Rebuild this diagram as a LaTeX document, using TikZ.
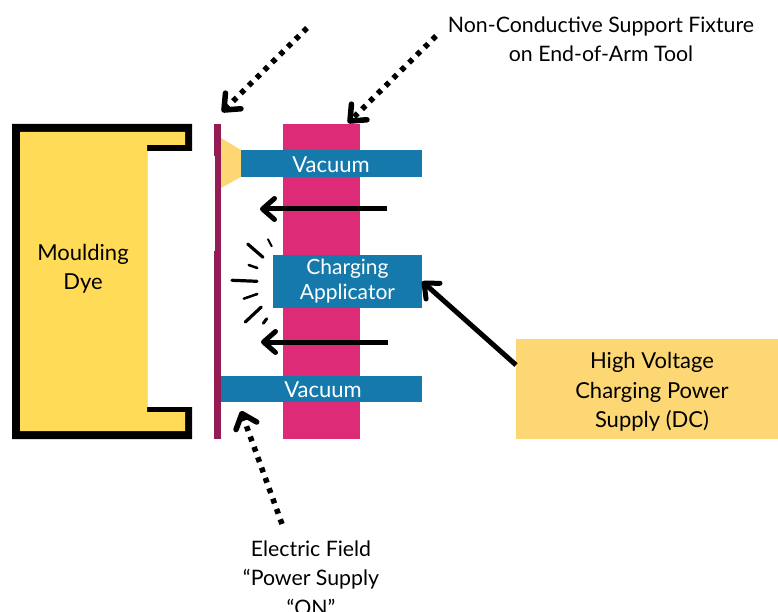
\documentclass[tikz,border=0pt]{standalone}
\usepackage{fontspec}
\setmainfont{Lato}
\usetikzlibrary{arrows.meta}
\definecolor{mouldyellow}{HTML}{FFDB58}
\definecolor{paleyellow}{HTML}{FDD774}
\definecolor{barpurple}{HTML}{951B55}
\definecolor{fixturepink}{HTML}{DE2B78}
\definecolor{boxblue}{HTML}{157AAB}
\tikzset{
    label/.style={align=center, font=\fontsize{21.3}{29.5}\selectfont, inner sep=0pt},
    biglabel/.style={align=center, font=\fontsize{22}{29.5}\selectfont, inner sep=0pt},
    bluebox/.style={fill=boxblue, inner sep=0pt},
    boxtext/.style={text=white, align=center, inner sep=0pt, font=\fontsize{22}{26}\selectfont},
    pusharrow/.style={line width=5pt, -{Straight Barb[length=12pt,width=21pt,round]}},
    dotarrow/.style={line width=5.5pt, dash pattern=on 5pt off 6pt, -{Straight Barb[length=13pt,width=22pt,round]}},
    spark/.style={line cap=round}
}
\begin{document}
\begin{tikzpicture}[x=1pt, y=-1pt]
    \useasboundingbox (0,0) rectangle (778,612);
    % mould
    \fill (12,124) -- (192,124) -- (192,151) -- (147,151) -- (147,407) -- (192,407) -- (192,439) -- (12,439) -- cycle;
    \fill[mouldyellow] (20,132) -- (185,132) -- (185,145) -- (147,145) -- (147,412) -- (185,412) -- (185,431) -- (20,431) -- cycle;
    \node[biglabel] (dye) at (83,269) {Moulding\\Dye};
    % part
    \fill[barpurple] (214,124) rectangle (221,156);
    \fill[barpurple] (215,156) rectangle (221,251);
    \fill[barpurple] (214,251) rectangle (221,439);
    \fill[paleyellow] (221,138) -- (241,150) -- (241,177) -- (221,188) -- cycle;
    % fixture
    \fill[fixturepink] (283,124) rectangle (360,439);
    \node[bluebox, minimum width=181pt, minimum height=27pt] (vacuumtop) at (331.5,163.5) {};
    \node[boxtext] (vacuumtoptext) at (331,165) {Vacuum};
    \node[bluebox, minimum width=201pt, minimum height=26pt] (vacuumlow) at (321.5,389) {};
    \node[boxtext] (vacuumlowtext) at (323,390) {Vacuum};
    \node[bluebox, minimum width=149pt, minimum height=53pt] (applicator) at (347.5,281.5) {};
    \node[boxtext, font=\fontsize{21}{25.5}\selectfont] (applicatortext) at (347.5,281) {Charging\\Applicator};
    \node[fill=paleyellow, minimum width=262pt, minimum height=100pt, inner sep=0pt] (supply) at (647,389) {};
    \node[biglabel] (supplytext) at (652,392) {High Voltage\\Charging Power\\Supply (DC)};
    \node[label] (fixture) at (601,39) {Non-Conductive Support Fixture\\on End-of-Arm Tool};
    \node[label] (field) at (311,578) {Electric Field\\“Power Supply\\“ON”};
    % arrow ends
    \coordinate (chargeA) at (387,209);
    \coordinate (fieldA) at (260,209);
    \coordinate (chargeB) at (388,342);
    \coordinate (fieldB) at (261,342);
    \coordinate (supplyout) at (516,365);
    \coordinate (partfrom) at (307,28);
    \coordinate (partto) at (222,112);
    \coordinate (fixturefrom) at (436,36);
    \coordinate (fixtureto) at (348,123);
    \coordinate (fieldfrom) at (282,524);
    \coordinate (fieldto) at (241,411);
    \draw[pusharrow] (chargeA) -- (fieldA);
    \draw[pusharrow] (chargeB) -- (fieldB);
    \draw[pusharrow] (supplyout) -- (applicator.east);
    \draw[dotarrow] (partfrom) -- (partto);
    \draw[dotarrow] (fixturefrom) -- (fixtureto);
    \draw[dotarrow] (fieldfrom) -- (fieldto);
    % sparks
    \foreach \xa/\ya/\xb/\yb/\w in {247.7/244/263/257.3/3.2, 268/239.3/271.7/246.3/2, 248.7/265/257.3/268/2.5, 232/280.3/257/281.3/3.2, 243.7/298.7/257.3/294/2.5, 245.3/322/261.3/307/3.2, 263.3/323.3/266.7/318.7/3}
        \draw[spark, line width=\w pt] (\xa,\ya) -- (\xb,\yb);
\end{tikzpicture}
\end{document}
